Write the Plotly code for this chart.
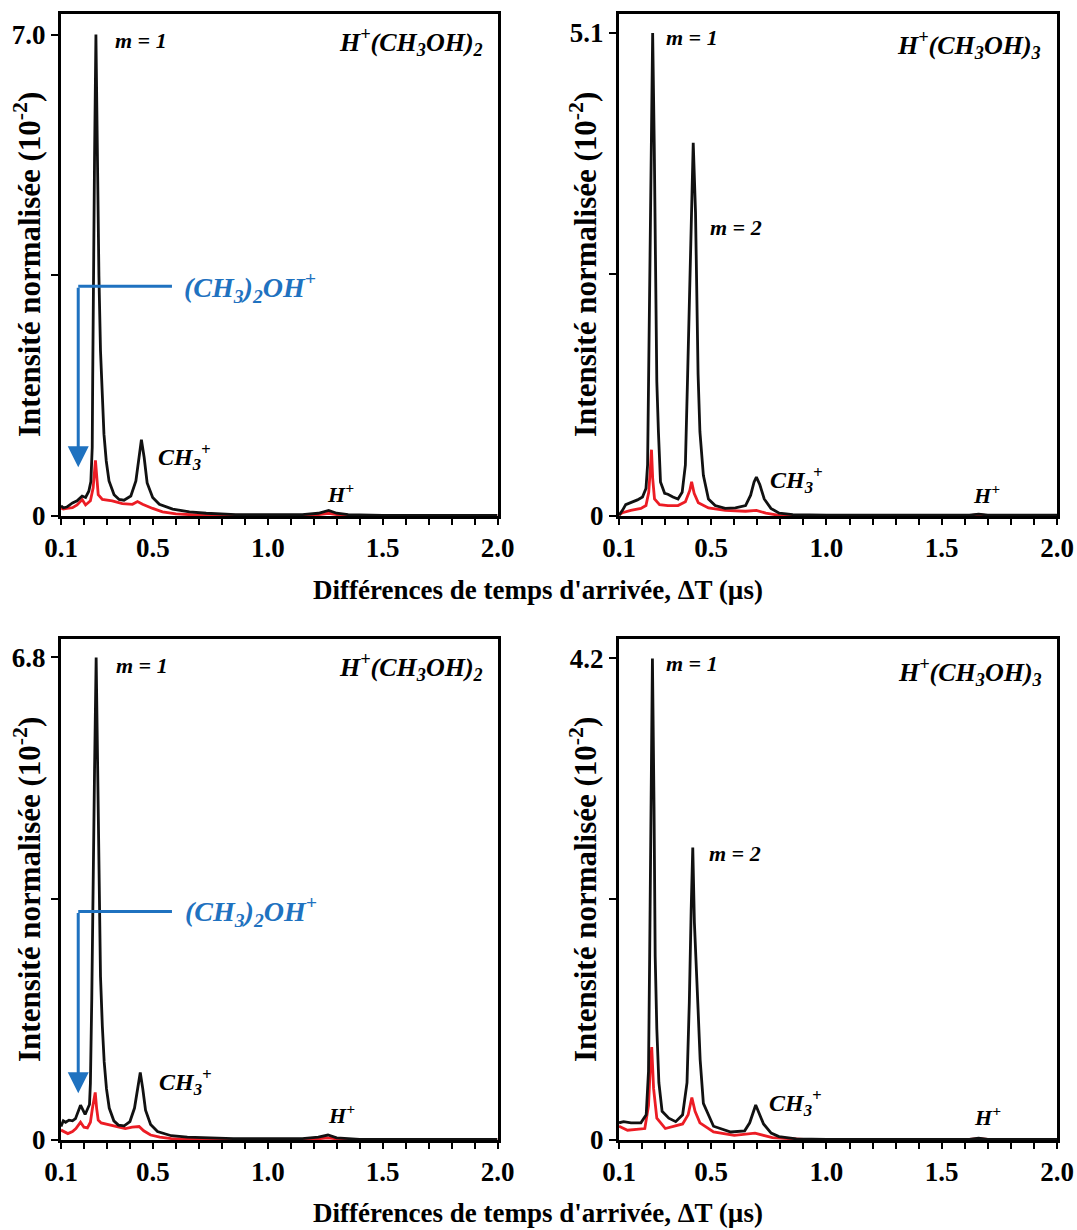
import plotly.graph_objects as go

# ---------------- data ----------------
# Top-left: H+(CH3OH)2
tl_black_x = [0.100, 0.110, 0.125, 0.150, 0.170, 0.192, 0.207, 0.221, 0.230, 0.236, 0.238, 0.240,
              0.246, 0.252, 0.258, 0.265, 0.272, 0.280, 0.287, 0.297, 0.309, 0.331, 0.353, 0.374,
              0.404, 0.426, 0.440, 0.450, 0.462, 0.475, 0.499, 0.528, 0.586, 0.659, 0.732, 0.860,
              1.000, 1.150, 1.220, 1.265, 1.300, 1.350, 1.500, 1.700, 2.000]
tl_black_y = [0.15, 0.12, 0.13, 0.19, 0.22, 0.29, 0.27, 0.36, 0.50, 1.00, 2.00, 3.20,
              5.20, 7.00, 5.30, 3.50, 2.40, 1.65, 1.19, 0.80, 0.51, 0.31, 0.24, 0.23,
              0.29, 0.51, 0.85, 1.11, 0.85, 0.48, 0.27, 0.17, 0.10, 0.06, 0.04, 0.02,
              0.02, 0.02, 0.04, 0.08, 0.04, 0.02, 0.01, 0.01, 0.01]
tl_red_x = [0.100, 0.110, 0.125, 0.150, 0.170, 0.192, 0.207, 0.228, 0.240, 0.246, 0.250, 0.256,
            0.262, 0.280, 0.323, 0.367, 0.411, 0.433, 0.455, 0.499, 0.542, 0.600, 0.688, 0.900,
            1.200, 1.265, 1.320, 1.500, 2.000]
tl_red_y = [0.12, 0.10, 0.11, 0.12, 0.16, 0.24, 0.16, 0.22, 0.41, 0.70, 0.81, 0.56,
            0.31, 0.24, 0.22, 0.18, 0.17, 0.21, 0.17, 0.11, 0.06, 0.03, 0.015, 0.01,
            0.01, 0.04, 0.01, 0.005, 0.005]

# Top-right: H+(CH3OH)3
tr_black_x = [0.100, 0.115, 0.129, 0.151, 0.180, 0.202, 0.217, 0.224, 0.228, 0.233, 0.239, 0.246,
              0.253, 0.259, 0.264, 0.271, 0.280, 0.298, 0.312, 0.334, 0.356, 0.374, 0.388, 0.397,
              0.405, 0.412, 0.422, 0.432, 0.438, 0.443, 0.451, 0.466, 0.488, 0.517, 0.561, 0.605,
              0.649, 0.671, 0.686, 0.696, 0.711, 0.730, 0.759, 0.795, 0.854, 1.000, 1.300, 1.620,
              1.660, 1.700, 2.000]
tr_black_y = [0.01, 0.06, 0.12, 0.14, 0.17, 0.20, 0.29, 0.54, 1.42, 2.55, 3.90, 5.10,
              3.90, 2.55, 1.42, 0.89, 0.36, 0.24, 0.23, 0.20, 0.18, 0.25, 0.54, 1.42,
              2.20, 3.10, 3.94, 3.20, 2.40, 1.50, 0.89, 0.43, 0.18, 0.11, 0.08, 0.085,
              0.11, 0.22, 0.36, 0.41, 0.33, 0.18, 0.08, 0.03, 0.015, 0.01, 0.01, 0.01,
              0.02, 0.01, 0.01]
tr_red_x = [0.100, 0.115, 0.151, 0.195, 0.217, 0.229, 0.236, 0.241, 0.246, 0.254, 0.276, 0.312,
            0.356, 0.388, 0.407, 0.415, 0.426, 0.444, 0.488, 0.561, 0.649, 0.696, 0.737, 0.795,
            1.000, 1.620, 1.660, 1.700, 2.000]
tr_red_y = [0.01, 0.035, 0.06, 0.08, 0.11, 0.25, 0.50, 0.70, 0.40, 0.18, 0.12, 0.11,
            0.11, 0.15, 0.27, 0.36, 0.24, 0.14, 0.085, 0.06, 0.05, 0.06, 0.03, 0.007,
            0.005, 0.005, 0.015, 0.005, 0.005]

# Bottom-left: H+(CH3OH)2
bl_black_x = [0.100, 0.110, 0.120, 0.135, 0.150, 0.163, 0.185, 0.205, 0.224, 0.228, 0.234, 0.238,
              0.246, 0.253, 0.259, 0.265, 0.272, 0.280, 0.288, 0.298, 0.310, 0.330, 0.350, 0.375,
              0.400, 0.420, 0.435, 0.445, 0.456, 0.468, 0.490, 0.520, 0.580, 0.650, 0.750, 0.850,
              1.000, 1.150, 1.220, 1.262, 1.300, 1.400, 2.000]
bl_black_y = [0.19, 0.27, 0.25, 0.28, 0.27, 0.30, 0.49, 0.36, 0.50, 0.80, 2.00, 3.30,
              5.20, 6.80, 5.20, 3.40, 2.30, 1.60, 1.10, 0.72, 0.45, 0.27, 0.21, 0.20,
              0.26, 0.45, 0.75, 0.95, 0.72, 0.42, 0.22, 0.12, 0.06, 0.04, 0.03, 0.02,
              0.02, 0.02, 0.04, 0.07, 0.03, 0.01, 0.01]
bl_red_x = [0.100, 0.115, 0.130, 0.150, 0.165, 0.185, 0.200, 0.215, 0.228, 0.237, 0.249, 0.255,
            0.262, 0.275, 0.300, 0.340, 0.380, 0.410, 0.440, 0.460, 0.490, 0.530, 0.580, 0.700,
            1.200, 1.260, 1.320, 2.000]
bl_red_y = [0.14, 0.11, 0.09, 0.12, 0.16, 0.25, 0.18, 0.17, 0.25, 0.45, 0.67, 0.45,
            0.28, 0.24, 0.22, 0.19, 0.16, 0.18, 0.19, 0.13, 0.07, 0.04, 0.02, 0.01,
            0.01, 0.03, 0.01, 0.005]

# Bottom-right: H+(CH3OH)3
br_black_x = [0.100, 0.120, 0.152, 0.195, 0.218, 0.228, 0.233, 0.238, 0.245, 0.252, 0.257, 0.264,
              0.273, 0.287, 0.316, 0.346, 0.376, 0.395, 0.405, 0.413, 0.420, 0.427, 0.436, 0.443,
              0.452, 0.466, 0.510, 0.585, 0.645, 0.667, 0.693, 0.727, 0.760, 0.794, 0.869, 1.000,
              1.620, 1.660, 1.700, 2.000]
br_black_y = [0.15, 0.16, 0.15, 0.15, 0.22, 0.60, 1.60, 2.90, 4.20, 2.90, 1.60, 0.97,
              0.50, 0.25, 0.19, 0.16, 0.22, 0.50, 1.20, 2.00, 2.55, 1.90, 1.40, 1.14,
              0.70, 0.32, 0.12, 0.07, 0.08, 0.15, 0.305, 0.14, 0.06, 0.03, 0.01, 0.005,
              0.005, 0.015, 0.005, 0.005]
br_red_x = [0.100, 0.137, 0.212, 0.228, 0.236, 0.242, 0.250, 0.264, 0.301, 0.376, 0.400, 0.416,
            0.430, 0.451, 0.510, 0.600, 0.690, 0.765, 0.900, 1.620, 1.660, 1.700, 2.000]
br_red_y = [0.12, 0.085, 0.10, 0.30, 0.65, 0.81, 0.45, 0.19, 0.10, 0.14, 0.22, 0.37,
            0.25, 0.15, 0.07, 0.04, 0.06, 0.02, 0.005, 0.005, 0.012, 0.005, 0.0]

# ticks
x_tick_vals = [0.1, 0.5, 1.0, 1.5, 2.0]
x_tick_text = ["0.1", "0.5", "1.0", "1.5", "2.0"]
x_all_ticks = [0.1, 0.2, 0.3, 0.4, 0.5, 0.6, 0.7, 0.8, 0.9, 1.0,
               1.1, 1.2, 1.3, 1.4, 1.5, 1.6, 1.7, 1.8, 1.9, 2.0]
tl_ytick_vals = [0, 7.0]
tl_ytick_text = ["0", "7.0"]
tl_ytick_mid = [3.5]
tr_ytick_vals = [0, 5.1]
tr_ytick_text = ["0", "5.1"]
tr_ytick_mid = [2.55]
bl_ytick_vals = [0, 6.8]
bl_ytick_text = ["0", "6.8"]
bl_ytick_mid = [3.4]
br_ytick_vals = [0, 4.2]
br_ytick_text = ["0", "4.2"]
br_ytick_mid = [2.1]

x_title = "Différences de temps d'arrivée, ΔT (µs)"
y_title = "Intensité normalisée (10<sup>-2</sup>)"
label_dimer = "H<sup>+</sup>(CH<sub>3</sub>OH)<sub>2</sub>"
label_trimer = "H<sup>+</sup>(CH<sub>3</sub>OH)<sub>3</sub>"
label_ch3 = "CH<sub>3</sub><sup>+</sup>"
label_h = "H<sup>+</sup>"
label_dme = "(CH<sub>3</sub>)<sub>2</sub>OH<sup>+</sup>"

# ---------------- figure ----------------
W, H = 1077, 1230
FONT = "Liberation Serif, Times New Roman, serif"
BLACK = "#111111"
RED = "#ec1c24"
BLUE = "#1f72c0"

xdoms = [[61 / W, 497.5 / W], [619 / W, 1057 / W]]
ydoms = [[1 - 516 / H, 1 - 14 / H], [1 - 1140 / H, 1 - 639 / H]]

panels = [
    dict(bx=tl_black_x, by=tl_black_y, rx=tl_red_x, ry=tl_red_y, ymax=7.30,
         yv=tl_ytick_vals, yt=tl_ytick_text, ym=tl_ytick_mid, xd=xdoms[0], yd=ydoms[0]),
    dict(bx=tr_black_x, by=tr_black_y, rx=tr_red_x, ry=tr_red_y, ymax=5.30,
         yv=tr_ytick_vals, yt=tr_ytick_text, ym=tr_ytick_mid, xd=xdoms[1], yd=ydoms[0]),
    dict(bx=bl_black_x, by=bl_black_y, rx=bl_red_x, ry=bl_red_y, ymax=7.06,
         yv=bl_ytick_vals, yt=bl_ytick_text, ym=bl_ytick_mid, xd=xdoms[0], yd=ydoms[1]),
    dict(bx=br_black_x, by=br_black_y, rx=br_red_x, ry=br_red_y, ymax=4.37,
         yv=br_ytick_vals, yt=br_ytick_text, ym=br_ytick_mid, xd=xdoms[1], yd=ydoms[1]),
]

fig = go.Figure()
layout = dict(width=W, height=H, autosize=False, showlegend=False,
              margin=dict(l=0, r=0, t=0, b=0),
              paper_bgcolor="white", plot_bgcolor="white",
              font=dict(family=FONT, color="black"))

tickfont = dict(family=FONT, size=27, color="black", weight="bold")

for i, p in enumerate(panels):
    n = i + 1
    xs = "x" if n == 1 else f"x{n}"
    ys = "y" if n == 1 else f"y{n}"
    xk = "xaxis" if n == 1 else f"xaxis{n}"
    yk = "yaxis" if n == 1 else f"yaxis{n}"
    fig.add_trace(go.Scatter(x=p["rx"], y=p["ry"], mode="lines", xaxis=xs, yaxis=ys,
                             line=dict(color=RED, width=2.8), cliponaxis=True))
    fig.add_trace(go.Scatter(x=p["bx"], y=p["by"], mode="lines", xaxis=xs, yaxis=ys,
                             line=dict(color=BLACK, width=2.8), cliponaxis=True))
    layout[xk] = dict(domain=p["xd"], anchor=ys, range=[0.1, 2.0], showgrid=False, zeroline=False,
                      showline=True, linecolor="black", linewidth=3, mirror=True,
                      ticks="outside", ticklen=6, tickwidth=2, tickcolor="black",
                      tickvals=x_tick_vals, ticktext=x_tick_text, tickfont=tickfont,
                      minor=dict(tickvals=x_all_ticks, ticks="outside", ticklen=6, tickwidth=2,
                                 tickcolor="black", showgrid=False),
                      ticklabelstandoff=0, automargin=False, fixedrange=True)
    layout[yk] = dict(domain=p["yd"], anchor=xs, range=[0, p["ymax"]], showgrid=False, zeroline=False,
                      showline=True, linecolor="black", linewidth=3, mirror=True,
                      ticks="outside", ticklen=7, tickwidth=2, tickcolor="black",
                      tickvals=p["yv"], ticktext=p["yt"], tickfont=tickfont,
                      minor=dict(tickvals=p["ym"], ticks="outside", ticklen=7, tickwidth=2,
                                 tickcolor="black", showgrid=False),
                      ticklabelstandoff=0, automargin=False, fixedrange=True)
    # overlay axes giving the inward half of the crossing ticks
    ox = f"xaxis{n + 4}"
    oy = f"yaxis{n + 4}"
    layout[ox] = dict(overlaying=xs, anchor=ys, side="bottom", range=[0.1, 2.0], showgrid=False,
                      zeroline=False, showline=False, ticks="inside", ticklen=6, tickwidth=2,
                      tickcolor="black", tickvals=x_all_ticks, showticklabels=False,
                      automargin=False, fixedrange=True)
    layout[oy] = dict(overlaying=ys, anchor=xs, side="left", range=[0, p["ymax"]], showgrid=False,
                      zeroline=False, showline=False, ticks="inside", ticklen=6, tickwidth=2,
                      tickcolor="black", tickvals=p["yv"] + p["ym"], showticklabels=False,
                      automargin=False, fixedrange=True)

annotations = []
shapes = []


def txt(ref, x, y, text, size, anchor="left", color="black", italic=True):
    n = ref
    xr = "x" if n == 1 else f"x{n}"
    yr = "y" if n == 1 else f"y{n}"
    annotations.append(dict(x=x, y=y, xref=xr, yref=yr, text=text, showarrow=False,
                            xanchor=anchor, yanchor="middle",
                            font=dict(family=FONT, size=size, color=color, weight="bold",
                                      style="italic" if italic else "normal")))


# panel 1
txt(1, 0.326, 6.92, "m = 1", 22)
txt(1, 1.945, 6.90, label_dimer, 26, anchor="right")
txt(1, 0.515, 0.86, label_ch3, 24)
txt(1, 1.250, 0.34, label_h, 22)
txt(1, 0.628, 3.33, label_dme, 28, color=BLUE)
# panel 2
txt(2, 0.294, 5.05, "m = 1", 22)
txt(2, 0.487, 3.05, "m = 2", 22)
txt(2, 1.940, 4.97, label_trimer, 26, anchor="right")
txt(2, 0.745, 0.38, label_ch3, 24)
txt(2, 1.627, 0.23, label_h, 22)
# panel 3
txt(3, 0.330, 6.68, "m = 1", 22)
txt(3, 1.945, 6.66, label_dimer, 26, anchor="right")
txt(3, 0.520, 0.82, label_ch3, 24)
txt(3, 1.252, 0.36, label_h, 22)
txt(3, 0.632, 3.22, label_dme, 28, color=BLUE)
# panel 4
txt(4, 0.294, 4.16, "m = 1", 22)
txt(4, 0.481, 2.50, "m = 2", 22)
txt(4, 1.943, 4.08, label_trimer, 26, anchor="right")
txt(4, 0.743, 0.32, label_ch3, 24)
txt(4, 1.633, 0.21, label_h, 22)

# blue bracket arrows (panels 1 and 3)
for n, yl, ytip in [(1, 3.34, 0.71), (3, 3.22, 0.66)]:
    xr = "x" if n == 1 else f"x{n}"
    yr = "y" if n == 1 else f"y{n}"
    shapes.append(dict(type="line", xref=xr, yref=yr, x0=0.175, x1=0.583, y0=yl, y1=yl,
                       line=dict(color=BLUE, width=3)))
    annotations.append(dict(x=0.175, y=ytip, ax=0.175, ay=yl, xref=xr, yref=yr, axref=xr, ayref=yr,
                            text="", showarrow=True, arrowhead=2, arrowsize=1.4, arrowwidth=3,
                            arrowcolor=BLUE, standoff=0, startstandoff=0))

# axis titles
ytitle_font = dict(family=FONT, size=31, color="black", weight="bold")
xtitle_font = dict(family=FONT, size=27, color="black", weight="bold")
for xc, yc in [(27 / W, 1 - 265 / H), (583 / W, 1 - 265 / H),
               (27 / W, 1 - 890 / H), (583 / W, 1 - 890 / H)]:
    annotations.append(dict(x=xc, y=yc, xref="paper", yref="paper", text=y_title, textangle=-90,
                            showarrow=False, xanchor="center", yanchor="middle", font=ytitle_font))
for yc in [1 - 590 / H, 1 - 1213 / H]:
    annotations.append(dict(x=538 / W, y=yc, xref="paper", yref="paper", text=x_title,
                            showarrow=False, xanchor="center", yanchor="middle", font=xtitle_font))

layout["annotations"] = annotations
layout["shapes"] = shapes
fig.update_layout(**layout)

# remove the browser's default 8px page margin so the 1077x1230 figure fills the window exactly
fig.write_html("out.html", config={"displayModeBar": False},
               post_script="document.body.style.margin='0';document.body.style.overflow='hidden';")
